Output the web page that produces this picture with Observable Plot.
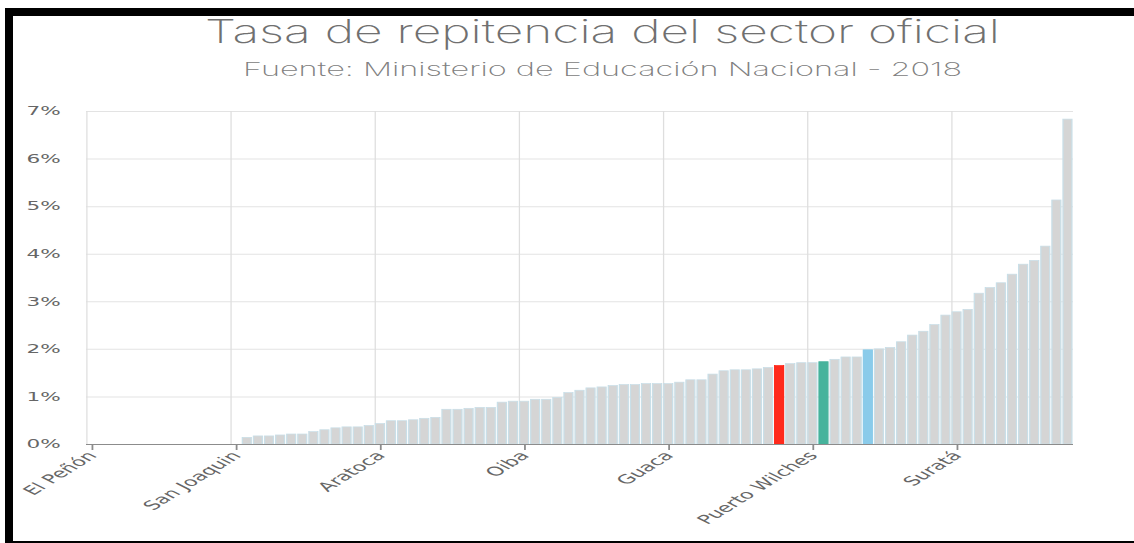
<!DOCTYPE html>
<html>
<head>
<meta charset="utf-8">
<script src="https://cdn.jsdelivr.net/npm/d3@7"></script>
<script src="https://cdn.jsdelivr.net/npm/@observablehq/plot@0.6"></script>
<style>
  html, body { margin: 0; padding: 0; background: #fff; width: 1134px; height: 543px; overflow: hidden; position: relative; }
  .title, .subtitle { position: absolute; left: 0; white-space: nowrap; font-family: Inter, "Open Sans", sans-serif; font-weight: 200; line-height: 1; transform-origin: 0 0; }
  .title { font-size: 33px; color: #707070; top: 15px; }
  .subtitle { font-size: 19px; color: #808080; top: 60px; }
  #chart { position: absolute; left: 0; top: 95px; transform-origin: 0 0; }
  .frame { position: absolute; background: #000; z-index: 5; }
</style>
</head>
<body>
<div class="frame" style="left:5px; top:8px; width:1129px; height:8px;"></div>
<div class="frame" style="left:5px; top:8px; width:8px; height:535px;"></div>
<div class="frame" style="left:5px; top:541px; width:1129px; height:2px;"></div>
<div class="title" id="title">Tasa de repitencia del sector oficial</div>
<div class="subtitle" id="subtitle">Fuente: Ministerio de Educación Nacional - 2018</div>
<div id="chart"></div>
<script>
// Tasa de repitencia (%) por municipio, ordenada de menor a mayor
const tasa = [
  0, 0, 0, 0, 0, 0, 0, 0, 0, 0, 0, 0, 0, 0,
  0.14, 0.17, 0.17, 0.19, 0.21, 0.21, 0.26, 0.30, 0.34, 0.36, 0.36, 0.39,
  0.43, 0.49, 0.49, 0.51, 0.54, 0.56, 0.73, 0.73, 0.75, 0.77, 0.77, 0.88, 0.90,
  0.90, 0.94, 0.94, 0.98, 1.08, 1.13, 1.18, 1.20, 1.23, 1.25, 1.25, 1.27, 1.27,
  1.27, 1.30, 1.35, 1.35, 1.47, 1.54, 1.56, 1.56, 1.58, 1.61, 1.65, 1.69, 1.71,
  1.71, 1.73, 1.78, 1.83, 1.83, 1.98, 2.00, 2.03, 2.15, 2.29, 2.37, 2.51,
  2.71, 2.78, 2.83, 3.17, 3.29, 3.39, 3.57, 3.78, 3.86, 4.16, 5.13, 6.83
];
// Etiquetas visibles del eje X y su posición en la lista ordenada
const etiquetas = ["El Peñón", "San Joaquin", "Aratoca", "Oiba", "Guaca", "Puerto Wilches", "Suratá"];
const posEtiquetas = [0, 13, 26, 39, 52, 65, 78];
// Barras destacadas
const destacados = [62, 66, 70];
const coloresDestacados = ["#ff2a1c", "#46b39c", "#8acbea"];
const colorBase = "#d5d5d5";
const yTicks = [0, 1, 2, 3, 4, 5, 6, 7];

const data = tasa.map((v, i) => {
  const k = destacados.indexOf(i);
  return { i, v, color: k >= 0 ? coloresDestacados[k] : colorBase, edge: k >= 0 ? coloresDestacados[k] : "#c9dfe8" };
}).filter(d => d.v > 0);

const s = 1.8; // horizontal stretch of the reference
const W = 1134 / s;

const chart = Plot.plot({
  width: W,
  height: 448,
  marginTop: 16,
  marginBottom: 99,
  marginLeft: 86 / s,
  marginRight: 61 / s,
  x: { type: "linear", domain: [0, tasa.length], axis: null },
  y: { domain: [0, 7], axis: null },
  color: { type: "identity" },
  style: { fontFamily: "'DejaVu Sans', Verdana, sans-serif", fontSize: "11px", color: "#666", background: "transparent", overflow: "visible" },
  marks: [
    Plot.gridY(yTicks, { stroke: "#e3e3e3", strokeOpacity: 1 }),
    Plot.ruleX(posEtiquetas, { x: d => d, stroke: "#dedede", strokeOpacity: 1, strokeWidth: 0.7 }),
    Plot.rect(data, {
      x1: d => d.i, x2: d => d.i + 1, y1: 0, y2: "v",
      fill: "color", stroke: "edge", strokeWidth: 0.7,
      insetLeft: 0.6, insetRight: 0.6
    }),
    Plot.ruleY([0], { stroke: "#8c8c8c", strokeWidth: 1.2 }),
    Plot.axisX(posEtiquetas.map(i => i + 0.5), {
      label: null,
      tickFormat: d => etiquetas[posEtiquetas.indexOf(d - 0.5)],
      tickRotate: -48, tickSize: 6, tickPadding: 3, stroke: "#8c8c8c", fill: "#666",
      fontSize: 12.5
    }),
    Plot.axisY(yTicks, {
      label: null,
      tickFormat: d => d + "%", tickSize: 0, tickPadding: 14.5, fill: "#666",
      fontSize: 12
    })
  ]
});
const holder = document.getElementById("chart");
holder.appendChild(chart);
chart.style.maxWidth = "none";
holder.style.transform = `scaleX(${s})`;

function fit(id, left, right) {
  const el = document.getElementById(id);
  const w = el.getBoundingClientRect().width;
  const k = (right - left) / w;
  el.style.left = left + "px";
  el.style.transform = `scaleX(${k})`;
}
fit("title", 205, 1000);
fit("subtitle", 243, 962);
</script>
</body>
</html>
